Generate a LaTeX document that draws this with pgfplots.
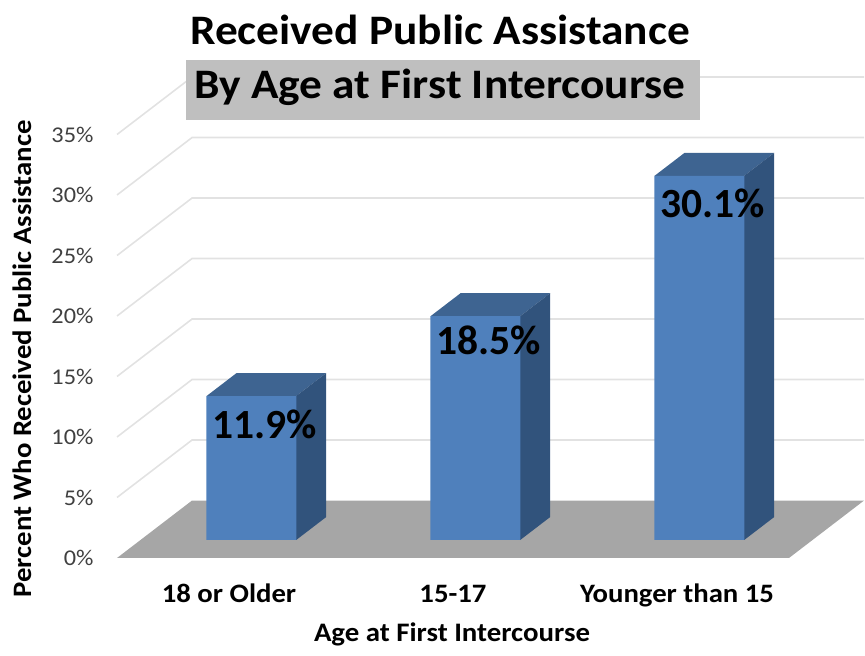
\documentclass[border=0pt]{standalone}
\usepackage{fontspec}
\setmainfont{Carlito}[FakeStretch=1.08]
\newfontfamily\lab{Carlito}
\usepackage{pgfplots}
\pgfplotsset{compat=1.18}
\definecolor{gridc}{HTML}{E2E2E2}
\definecolor{floorc}{HTML}{A6A6A6}
\definecolor{front}{HTML}{4F80BC}
\definecolor{topc}{HTML}{3E6491}
\definecolor{sidec}{HTML}{31537C}
\definecolor{boxc}{HTML}{BFBFBF}
\definecolor{tickc}{HTML}{404040}
\pgfplotsset{datalabel/.style={draw=none, mark=none,
  nodes near coords={\pgfmathprintnumber[fixed,fixed zerofill,precision=1]{\pgfplotspointmeta}\%},
  point meta=y,
  nodes near coords style={anchor=center, xshift=35.5pt, yshift=#1, text=black, font=\lab\fontsize{41.5}{46}\bfseries\selectfont}}}
\begin{document}
\begin{tikzpicture}[x=1pt,y=1pt]
\path[use as bounding box] (0,0) rectangle (865,656);
\begin{axis}[
  at={(117pt,98pt)}, anchor=south west,
  scale only axis, width=672pt, height=423.5pt,
  xmin=-0.5, xmax=2.5, ymin=0, ymax=35,
  clip=false,
  axis line style={draw=none},
  major tick length=0pt,
  xtick={0,1,2},
  xticklabels={18 or Older,15-17,Younger than 15},
  ytick={0,5,...,35},
  yticklabel={\pgfmathprintnumber{\tick}\%},
  /pgf/number format/assume math mode=true,
  y tick label style={font=\fontsize{22.5}{26}\selectfont, text=tickc, xshift=-20pt},
  x tick label style={font=\fontsize{26.6}{30}\bfseries\selectfont, text=black, text height=18pt, text depth=6pt, yshift=-23pt},
  xlabel={Age at First Intercourse},
  ylabel={Percent Who Received Public Assistance},
  every axis x label/.style={at={(axis description cs:0.4985,-0.1795)},anchor=center,font=\fontsize{26.7}{30}\bfseries\selectfont},
  every axis y label/.style={at={(axis description cs:-0.1414,0.47)},anchor=center,rotate=90,font=\fontsize{26.6}{30}\bfseries\selectfont},
]
% back wall and side wall gridlines
\addplot[gridc, line width=1.6pt] coordinates {(-0.5,5)(-0.165,9.75)(2.835,9.75)};
\addplot[gridc, line width=1.6pt] coordinates {(-0.5,10)(-0.165,14.75)(2.835,14.75)};
\addplot[gridc, line width=1.6pt] coordinates {(-0.5,15)(-0.165,19.75)(2.835,19.75)};
\addplot[gridc, line width=1.6pt] coordinates {(-0.5,20)(-0.165,24.75)(2.835,24.75)};
\addplot[gridc, line width=1.6pt] coordinates {(-0.5,25)(-0.165,29.75)(2.835,29.75)};
\addplot[gridc, line width=1.6pt] coordinates {(-0.5,30)(-0.165,34.75)(2.835,34.75)};
\addplot[gridc, line width=1.6pt] coordinates {(-0.5,35)(-0.165,39.75)(2.835,39.75)};
% floor
\addplot[fill=floorc, draw=none] coordinates {(-0.5,0)(2.5,0)(2.835,4.75)(-0.165,4.75)} -- cycle;
% bar tops and sides
\addplot[fill=topc, draw=none, yshift=18pt] coordinates {(-0.1,11.9)(0.3,11.9)(0.434,13.8)(0.034,13.8)} -- cycle;
\addplot[fill=sidec, draw=none, yshift=18pt] coordinates {(0.3,0)(0.434,1.9)(0.434,13.8)(0.3,11.9)} -- cycle;
\addplot[fill=topc, draw=none, yshift=18pt] coordinates {(0.9,18.5)(1.3,18.5)(1.434,20.4)(1.034,20.4)} -- cycle;
\addplot[fill=sidec, draw=none, yshift=18pt] coordinates {(1.3,0)(1.434,1.9)(1.434,20.4)(1.3,18.5)} -- cycle;
\addplot[fill=topc, draw=none, yshift=18pt] coordinates {(1.9,30.1)(2.3,30.1)(2.434,32.0)(2.034,32.0)} -- cycle;
\addplot[fill=sidec, draw=none, yshift=18pt] coordinates {(2.3,0)(2.434,1.9)(2.434,32.0)(2.3,30.1)} -- cycle;
% bar fronts
\addplot[ybar, bar width=90pt, bar shift=22.4pt, fill=front, draw=none, yshift=18pt]
  coordinates {(0,11.9)(1,18.5)(2,30.1)};
% data labels
\addplot[datalabel=-10pt] coordinates {(0,11.9)};
\addplot[datalabel=-6pt] coordinates {(1,18.5)};
\addplot[datalabel=-10pt] coordinates {(2,30.1)};
\end{axis}
\fill[boxc] (186,535.5) rectangle (700,596);
\node[font=\fontsize{42}{46}\bfseries\selectfont, text=black] at (440,626) {Received Public Assistance};
\node[font=\fontsize{42}{46}\bfseries\selectfont, text=black] at (440,569) {By Age at First Intercourse};
\end{tikzpicture}
\end{document}
